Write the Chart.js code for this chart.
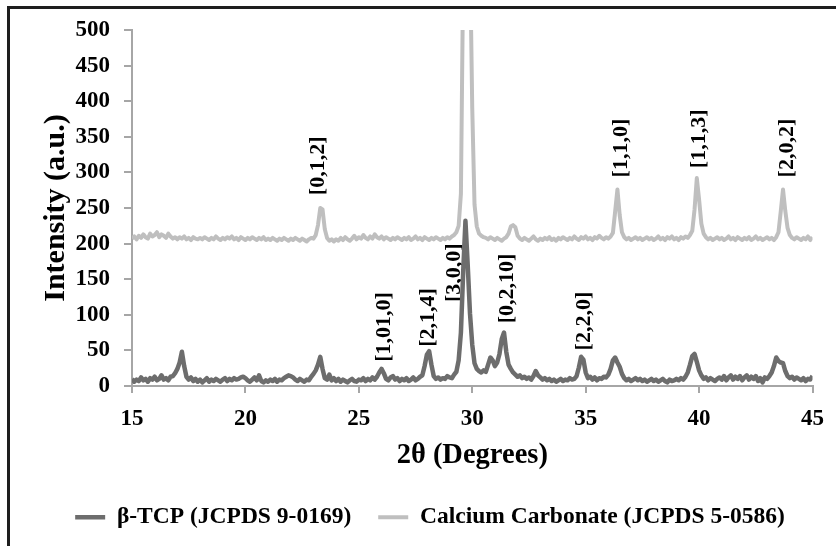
<!DOCTYPE html>
<html>
<head>
<meta charset="utf-8">
<script src="https://cdn.jsdelivr.net/npm/chart.js@4"></script>
<style>
  body { margin: 0; background: #fff; }
  #wrap { position: relative; width: 836px; height: 546px; }
  #frame { position: absolute; left: 7px; top: 6px; right: 0; bottom: 0;
           border-left: 3px solid #1e1e1e; border-top: 3px solid #1e1e1e; pointer-events: none; }
</style>
</head>
<body>
<div id="wrap">
  <canvas id="xrd"></canvas>
  <div id="frame"></div>
</div>
<script>
// 2-theta scan positions (degrees)
var twoTheta = [
  15.0,15.1,15.2,15.3,15.4,15.5,15.6,15.7,15.8,15.9,
  16.0,16.1,16.2,16.3,16.4,16.5,16.6,16.7,16.8,16.9,
  17.0,17.1,17.2,17.3,17.4,17.5,17.6,17.7,17.8,17.9,
  18.0,18.1,18.2,18.3,18.4,18.5,18.6,18.7,18.8,18.9,
  19.0,19.1,19.2,19.3,19.4,19.5,19.6,19.7,19.8,19.9,
  20.0,20.1,20.2,20.3,20.4,20.5,20.6,20.7,20.8,20.9,
  21.0,21.1,21.2,21.3,21.4,21.5,21.6,21.7,21.8,21.9,
  22.0,22.1,22.2,22.3,22.4,22.5,22.6,22.7,22.8,22.9,
  23.0,23.1,23.2,23.3,23.4,23.5,23.6,23.7,23.8,23.9,
  24.0,24.1,24.2,24.3,24.4,24.5,24.6,24.7,24.8,24.9,
  25.0,25.1,25.2,25.3,25.4,25.5,25.6,25.7,25.8,25.9,
  26.0,26.1,26.2,26.3,26.4,26.5,26.6,26.7,26.8,26.9,
  27.0,27.1,27.2,27.3,27.4,27.5,27.6,27.7,27.8,27.9,
  28.0,28.1,28.2,28.3,28.4,28.5,28.6,28.7,28.8,28.9,
  29.0,29.1,29.2,29.3,29.4,29.5,29.6,29.7,29.8,29.9,
  30.0,30.1,30.2,30.3,30.4,30.5,30.6,30.7,30.8,30.9,
  31.0,31.1,31.2,31.3,31.4,31.5,31.6,31.7,31.8,31.9,
  32.0,32.1,32.2,32.3,32.4,32.5,32.6,32.7,32.8,32.9,
  33.0,33.1,33.2,33.3,33.4,33.5,33.6,33.7,33.8,33.9,
  34.0,34.1,34.2,34.3,34.4,34.5,34.6,34.7,34.8,34.9,
  35.0,35.1,35.2,35.3,35.4,35.5,35.6,35.7,35.8,35.9,
  36.0,36.1,36.2,36.3,36.4,36.5,36.6,36.7,36.8,36.9,
  37.0,37.1,37.2,37.3,37.4,37.5,37.6,37.7,37.8,37.9,
  38.0,38.1,38.2,38.3,38.4,38.5,38.6,38.7,38.8,38.9,
  39.0,39.1,39.2,39.3,39.4,39.5,39.6,39.7,39.8,39.9,
  40.0,40.1,40.2,40.3,40.4,40.5,40.6,40.7,40.8,40.9,
  41.0,41.1,41.2,41.3,41.4,41.5,41.6,41.7,41.8,41.9,
  42.0,42.1,42.2,42.3,42.4,42.5,42.6,42.7,42.8,42.9,
  43.0,43.1,43.2,43.3,43.4,43.5,43.6,43.7,43.8,43.9,
  44.0,44.1,44.2,44.3,44.4,44.5,44.6,44.7,44.8,44.9,
  45.0
];

// beta-TCP intensity (a.u.)
var tcpIntensity = [
  10,6,9,7,12,8,10,6,11,9,
  13,8,10,15,9,11,8,13,14,18,
  24,33,48,28,13,9,12,7,10,6,
  9,5,8,11,6,9,7,10,8,6,
  9,11,7,10,8,11,9,10,12,13,
  11,8,6,9,12,8,15,7,5,8,
  6,9,7,10,6,9,8,11,13,15,
  14,12,9,7,10,8,6,9,8,13,
  17,22,30,41,24,11,9,16,8,11,
  7,10,6,9,7,5,8,10,7,6,
  9,8,11,7,10,8,12,9,13,19,
  24,18,10,8,12,14,9,11,7,10,
  8,11,7,9,12,8,10,13,15,28,
  44,49,30,14,10,12,9,11,10,14,
  12,11,16,20,36,75,160,232,170,102,
  58,32,24,21,19,22,20,30,40,36,
  28,33,45,66,75,48,30,24,19,16,
  13,15,11,13,10,12,9,14,21,15,
  12,9,11,8,10,7,9,6,8,10,
  7,9,8,11,9,10,14,26,41,37,
  19,11,13,9,12,8,11,10,13,12,
  16,24,36,40,33,27,17,11,8,10,
  7,9,11,8,10,7,9,6,8,10,
  7,9,6,8,10,7,5,9,7,8,
  10,8,11,9,13,19,30,42,45,34,
  22,15,10,12,8,11,9,7,10,12,
  9,14,8,12,15,9,13,10,14,8,
  12,15,9,13,10,14,7,11,5,12,
  10,14,19,28,40,35,33,32,21,14,
  11,13,9,12,10,8,11,7,10,9,
  14
];

// calcium carbonate intensity (a.u.), offset pattern
var caco3Intensity = [
  207,210,206,211,208,213,209,207,214,210,
  212,216,209,213,211,208,214,210,207,209,
  206,209,207,210,206,208,205,209,207,206,
  208,206,209,207,205,208,206,210,207,205,
  208,206,209,207,210,206,208,205,209,207,
  205,208,206,209,207,205,208,206,209,205,
  207,205,208,206,204,207,205,208,206,204,
  207,205,208,206,204,207,205,203,206,208,
  207,212,226,250,248,220,208,204,206,203,
  206,204,208,205,209,206,204,207,211,206,
  209,207,212,208,206,210,207,213,209,207,
  210,206,209,207,205,208,206,209,207,205,
  208,206,209,205,207,210,206,208,205,209,
  207,205,208,206,209,207,205,208,206,209,
  207,210,212,216,225,270,580,650,650,610,
  390,255,224,214,211,209,208,206,209,207,
  205,208,206,204,207,209,214,224,226,223,
  211,207,205,208,206,204,207,210,206,204,
  207,205,208,206,209,205,207,204,208,206,
  209,207,205,208,206,210,207,205,209,207,
  210,206,208,205,209,207,211,208,206,209,
  207,210,215,245,276,240,216,209,206,208,
  205,207,209,206,208,205,207,209,206,208,
  205,207,210,206,208,205,209,207,210,206,
  208,205,209,207,210,208,212,218,248,292,
  262,228,214,209,206,208,205,207,209,206,
  208,205,207,210,206,208,205,209,207,205,
  208,206,209,205,207,210,206,208,205,207,
  209,206,208,205,209,216,245,276,246,222,
  212,208,206,209,207,205,208,206,210,205,
  209
];

var seriesNames = ['β-TCP (JCPDS 9-0169)', 'Calcium Carbonate (JCPDS 5-0586)'];

// Miller index labels: text, angle, intensity where the label starts
var peakNames  = ['[0,1,2]', '[1,1,0]', '[1,1,3]', '[2,0,2]', '[1,01,0]', '[2,1,4]', '[3,0,0]', '[0,2,10]', '[2,2,0]'];
var peakAngles = [23.19, 36.54, 39.98, 43.84, 26.07, 28.04, 29.15, 31.51, 34.88];
var peakLabelY = [268, 293, 306, 293, 34, 55, 118, 88, 50];

var serif = "'Liberation Serif', 'Times New Roman', serif";

var peakLabels = {
  id: 'peakLabels',
  beforeDatasetsDraw: function(chart) {
    var ctx = chart.ctx, xs = chart.scales.x, ys = chart.scales.y;
    ctx.save();
    ctx.fillStyle = '#000';
    ctx.font = 'bold 22px ' + serif;
    ctx.textAlign = 'left';
    ctx.textBaseline = 'middle';
    for (var i = 0; i < peakNames.length; i++) {
      ctx.save();
      ctx.translate(xs.getPixelForValue(peakAngles[i]), ys.getPixelForValue(peakLabelY[i]));
      ctx.rotate(-Math.PI / 2);
      ctx.fillText(peakNames[i], 0, 1);
      ctx.restore();
    }
    ctx.restore();
  }
};

function toPoints(ys) {
  return ys.map(function(v, i) { return { x: twoTheta[i], y: v }; });
}

new Chart(document.getElementById('xrd'), {
  type: 'line',
  data: {
    datasets: [{
      label: seriesNames[0],
      data: toPoints(tcpIntensity),
      borderColor: '#6d6d6d',
      backgroundColor: '#6d6d6d',
      borderWidth: 4.5
    }, {
      label: seriesNames[1],
      data: toPoints(caco3Intensity),
      borderColor: '#bfbfbf',
      backgroundColor: '#bfbfbf',
      borderWidth: 4
    }]
  }, // data
  options: {
    responsive: true,
    maintainAspectRatio: false,
    animation: false,
    layout: { padding: { left: 47, right: 23, top: 30, bottom: 7 } },
    elements: {
      point: { radius: 0 },
      line: { tension: 0, borderJoinStyle: 'round', fill: false }
    },
    datasets: { line: { clip: 0 } },
    scales: {
      x: {
        type: 'linear',
        min: 15, max: 45,
        afterFit: function(s) { s.height = 92.5; },
        border: { color: '#a6a6a6', width: 2 },
        grid: { drawOnChartArea: false, tickLength: 7, color: '#a6a6a6', lineWidth: 2 },
        ticks: { stepSize: 5, color: '#000', padding: 12, font: { family: serif, size: 23, weight: 'bold' } },
        title: {
          display: true, text: '2θ (Degrees)', color: '#000',
          padding: { top: 0, bottom: 6 },
          font: { family: serif, size: 28.5, weight: 'bold' }
        }
      },
      y: {
        min: 0, max: 500,
        afterFit: function(s) { s.width = 85; },
        border: { color: '#a6a6a6', width: 2 },
        grid: { drawOnChartArea: false, tickLength: 8, color: '#a6a6a6', lineWidth: 2 },
        ticks: { stepSize: 50, color: '#000', padding: 14, font: { family: serif, size: 23, weight: 'bold' } },
        title: {
          display: true, text: 'Intensity (a.u.)', color: '#000',
          padding: { top: -9, bottom: 0 },
          font: { family: serif, size: 30, weight: 'bold' }
        }
      }
    }, // scales
    plugins: {
      tooltip: { enabled: false },
      legend: {
        position: 'bottom',
        labels: {
          usePointStyle: true,
          pointStyle: 'line',
          pointStyleWidth: 30,
          padding: 27,
          color: '#000',
          font: { family: serif, size: 23.5, weight: 'bold' }
        }
      }
    }
  }, // options
  plugins: [peakLabels]
}); // chart end
</script>
</body>
</html>
